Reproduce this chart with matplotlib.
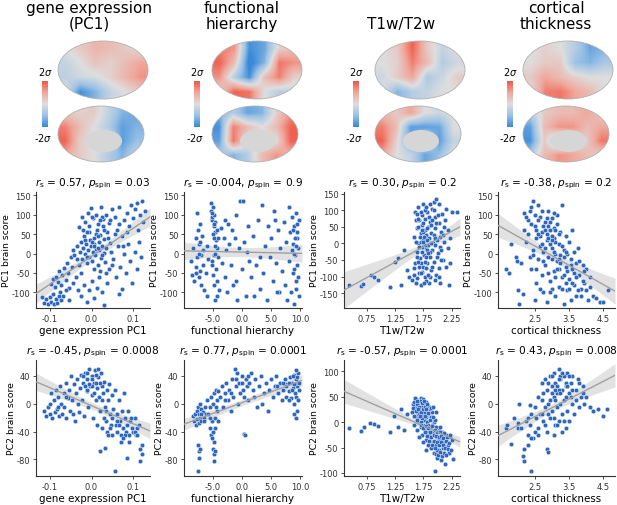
import matplotlib
matplotlib.use("Agg")
import matplotlib.pyplot as plt
import numpy as np
from matplotlib.colors import LinearSegmentedColormap
from matplotlib.patches import Ellipse

plt.rcParams['axes.unicode_minus'] = False
plt.rcParams['mathtext.fontset'] = 'dejavusans'

W, H = 617, 506

# ---------------- data ----------------
col_titles = ["gene expression\n(PC1)", "functional\nhierarchy", "T1w/T2w", "cortical\nthickness"]
x_labels = ["gene expression PC1", "functional hierarchy", "T1w/T2w", "cortical thickness"]
y_labels = ["PC1 brain score", "PC2 brain score"]
stats_r = [["0.57", "-0.004", "0.30", "-0.38"], ["-0.45", "0.77", "-0.57", "0.43"]]
stats_p = [["0.03", "0.9", "0.2", "0.2"], ["0.0008", "0.0001", "0.0001", "0.008"]]

x_ticks = [[-0.1, 0.0, 0.1], [-5.0, 0.0, 5.0, 10.0], [0.75, 1.25, 1.75, 2.25], [2.5, 3.5, 4.5]]
x_ticklabels = [["-0.1", "0.0", "0.1"], ["-5.0", "0.0", "5.0", "10.0"],
                ["0.75", "1.25", "1.75", "2.25"], ["2.5", "3.5", "4.5"]]
y_ticks = [[[-100, -50, 0, 50, 100, 150], [-100, -50, 0, 50, 100, 150],
            [-150, -100, -50, 0, 50, 100, 150], [-100, -50, 0, 50, 100, 150]],
           [[-80, -40, 0, 40], [-80, -40, 0, 40], [-100, -50, 0, 50, 100], [-80, -40, 0, 40]]]

# row 1: PC1 brain score
gene_pc1 = [
    (-0.118,-112),(-0.113,-127),(-0.108,-118),(-0.104,-130),(-0.100,-112),(-0.097,-125),(-0.093,-105),
    (-0.090,-130),(-0.086,-118),(-0.082,-127),(-0.079,-110),(-0.075,-98),(-0.072,-120),(-0.068,-108),
    (-0.098,-78),(-0.093,-65),(-0.088,-85),(-0.084,-60),(-0.080,-72),(-0.077,-45),(-0.073,-82),
    (-0.070,-55),(-0.066,-38),(-0.062,-68),(-0.059,-25),(-0.056,-50),(-0.053,-88),(-0.050,-10),
    (-0.047,-35),(-0.044,-75),(-0.041,-5),(-0.038,-60),(-0.035,20),(-0.032,-95),(-0.030,-30),
    (-0.025,-110),(-0.018,-80),(-0.012,-125),(-0.006,-95),(0.000,-70),(0.006,-115),(0.012,-88),
    (0.018,-60),(0.024,-100),(0.030,-132),(0.036,-75),
    (-0.028,5),(-0.025,30),(-0.022,-15),(-0.020,15),(-0.018,45),(-0.015,0),(-0.013,25),(-0.011,-25),
    (-0.009,10),(-0.007,55),(-0.005,-8),(-0.003,35),(-0.001,18),(0.001,-20),(0.003,5),(0.005,40),
    (0.007,25),(0.009,-5),(0.011,12),(0.013,60),(0.015,-30),(0.017,30),(0.019,8),(0.021,48),
    (0.023,-12),(0.025,20),(0.027,70),(0.029,2),(0.031,38),(0.033,-22),(0.035,15),(0.038,55),
    (0.041,-40),(0.044,28),(0.047,5),
    (-0.030,68),(-0.022,95),(-0.015,80),(-0.008,105),(-0.002,118),(0.004,90),(0.010,100),(0.016,75),
    (0.022,120),(0.028,88),(0.035,100),(0.042,78),(0.048,115),
    (0.055,95),(0.060,60),(0.066,120),(0.072,45),(0.078,85),(0.084,105),(0.090,70),(0.095,125),
    (0.100,90),(0.104,115),(0.108,130),(0.112,60),(0.116,100),(0.120,135),(0.124,80),(0.128,110),
    (0.052,-15),(0.058,-60),(0.063,20),(0.068,-35),(0.073,-90),(0.078,0),(0.083,-50),(0.088,25),
    (0.093,-20),(0.098,-75),(0.103,5),(0.108,-40),(0.113,30),(0.118,-10),(0.065,-105),
    (-0.020,60),(-0.015,35),(-0.010,-10),(-0.005,70),(0.000,30),(0.005,-40),(0.010,50),(0.015,15),
    (0.020,-45),(0.025,95),(0.030,60),(0.035,-50),(0.040,40),(0.045,85),(0.050,-30),(0.005,20),
    (0.015,45),(0.025,-5),(-0.025,-50),(-0.035,-15),(-0.045,10),(0.055,50),(0.065,75),(0.075,20),
    (0.085,55),(-0.060,-95),(-0.055,-120),(0.020,85),(-0.010,55),(0.000,95)]

hier_pc1 = [
    (-8.8,-20),(-8.6,-55),(-8.4,15),(-8.2,-70),(-8.0,-35),(-7.9,40),(-7.8,105),(-7.7,-10),(-7.6,60),
    (-7.5,-60),(-7.4,25),(-7.3,-45),(-7.2,75),(-7.1,-5),(-7.0,-80),(-6.9,45),(-6.8,-30),(-6.7,10),
    (-6.5,-95),(-6.3,-50),(-6.1,20),(-5.9,-15),(-6.0,-110),
    (-5.4,130),(-5.3,110),(-5.2,85),(-5.1,95),(-5.0,120),(-4.9,70),(-4.8,100),(-4.7,55),(-4.6,80),
    (-4.5,35),(-4.4,60),(-4.3,15),(-4.2,-10),(-5.2,-30),(-5.0,-55),(-4.8,-80),(-4.6,-120),(-4.4,-110),
    (-4.9,-5),(-4.7,20),(-4.5,-40),(-4.3,-70),(-4.1,40),(-4.0,-95),
    (-3.7,65),(-3.5,-25),(-3.2,40),(-3.0,-60),(-2.8,10),(-2.6,-100),(-2.4,75),(-2.2,25),(-2.0,-30),
    (-1.8,60),(-1.5,-80),(-1.2,40),(-1.0,100),(-0.8,-120),(-0.6,15),(-0.3,135),(-0.1,-40),(0.2,135),
    (0.4,30),(0.6,-110),(0.9,5),(1.2,-20),(1.5,-60),(1.8,45),(2.0,-110),(2.4,-30),(2.8,85),(3.1,-90),
    (3.4,125),(3.6,-50),(3.9,20),(4.2,-120),(4.5,70),(4.8,-10),(5.0,40),(5.3,-70),(5.5,110),(5.7,85),
    (5.9,-25),(6.2,60),(6.4,-100),(6.6,15),(6.9,-45),
    (7.2,80),(7.4,-80),(7.6,30),(7.8,-120),(8.0,120),(8.1,-20),(8.3,55),(8.4,-100),(8.5,10),(8.6,95),
    (8.7,-50),(8.8,25),(8.9,-130),(9.0,70),(9.1,-5),(9.2,105),(9.3,-70),(9.4,40),(9.5,-30),(9.6,15),
    (9.7,85),(9.8,-110),(9.2,-90),(8.9,0),(9.5,55),
    (-5.0,50),(-4.8,75),(-5.2,105),(-4.6,0),(-5.1,-20),(-4.9,40),(8.8,60),(9.1,40),(9.4,75),(9.0,-40),
    (9.6,-60),(9.3,20),(-7.5,0),(-8.0,-50),(-7.2,30),(-1.0,-70),(1.0,70),(3.0,-10),(6.0,-100),(-3.0,85)]

t1t2_pc1 = [
    (0.42,-125),(0.65,-130),(0.68,-122),(0.82,-95),(0.88,-102),(0.95,-112),(1.15,-132),(1.25,-55),
    (1.30,-45),(1.35,-125),(1.40,-20),(1.45,-80),(1.50,-100),
    (1.55,-110),(1.58,20),(1.60,-60),(1.60,95),(1.62,-120),(1.63,45),(1.64,-25),(1.65,110),(1.66,0),
    (1.67,-90),(1.68,70),(1.69,-45),(1.70,30),(1.71,-125),(1.72,85),(1.72,-10),(1.73,55),(1.74,-70),
    (1.75,10),(1.75,120),(1.76,-35),(1.77,40),(1.78,-100),(1.78,75),(1.79,-15),(1.80,25),(1.81,-60),
    (1.82,95),(1.83,-5),(1.84,50),(1.85,-120),(1.85,15),(1.86,-40),(1.87,65),(1.88,-80),(1.89,30),
    (1.90,105),(1.91,-20),(1.92,0),(1.93,125),(1.94,-55),(1.95,45),(1.96,80),(1.97,-95),(1.98,135),
    (2.00,10),(2.01,-30),(2.02,60),(2.03,120),(2.05,-120),(2.06,35),(2.08,90),(2.10,-50),(2.12,5),
    (2.14,70),(2.16,-70),(2.18,40),(2.20,-125),(2.22,15),(2.25,95),(1.68,-10),(1.70,5),(1.73,-25),
    (1.76,20),(1.79,-40),(1.82,-20),(1.74,35),(1.66,50),(1.62,70),(1.88,0),(1.70,-60),(1.64,-105),
    (1.80,-115),(1.95,-5),(1.77,100),(2.04,-10),(2.09,25),(1.59,-75),(1.87,-100),(2.35,95),
    (1.61,5),(1.63,-40),(1.65,75),(1.67,-70),(1.69,20),(1.71,95),(1.73,-85),(1.75,60),(1.77,-55),
    (1.79,110),(1.81,10),(1.83,-95),(1.85,80),(1.87,-25),(1.89,55),(1.91,-70),(1.93,25),(1.95,-110),
    (1.97,60),(1.99,-40),(2.01,85),(2.03,-75),(2.05,20),(2.07,-20),(2.11,50),(2.15,105),(2.19,-15),
    (2.23,-60),(1.66,-55),(1.72,40),(1.78,-5),(1.84,-30),(1.90,70),(1.96,15),(2.02,-100),(1.64,90),
    (1.76,-120),(1.86,120),(1.70,-90),(1.82,45),(1.94,100),(2.06,-50),(1.58,-95),(1.74,5),(1.80,-75)]

thick_pc1 = [
    (1.65,-40),(1.75,-50),(1.80,25),(1.95,-10),(1.98,-20),(2.00,-95),(2.05,-130),(2.10,-25),(2.15,-105),
    (2.20,105),(2.20,60),(2.25,30),(2.30,85),(2.35,-10),(2.40,120),(2.40,-40),(2.45,135),(2.45,10),
    (2.50,-120),(2.50,70),(2.55,40),(2.55,-75),(2.60,125),(2.60,-15),(2.65,95),(2.65,20),(2.70,-55),
    (2.70,55),(2.75,-100),(2.75,5),(2.80,80),(2.80,-30),(2.85,35),(2.85,-125),(2.90,110),(2.90,-10),
    (2.95,60),(2.95,-70),(3.00,15),(3.00,90),(3.05,-45),(3.05,40),(3.10,-110),(3.10,0),(3.15,75),
    (3.15,-20),(3.20,25),(3.20,-85),(3.25,55),(3.25,-5),(3.30,125),(3.30,-60),(3.35,10),(3.35,-130),
    (3.40,45),(3.40,-35),(3.45,-95),(3.45,0),(3.50,30),(3.50,-65),(3.55,-15),(3.55,-120),(3.60,60),
    (3.60,-40),(3.65,-80),(3.65,5),(3.70,-25),(3.70,-110),(3.75,15),(3.80,-55),(3.85,-90),(3.90,-30),
    (3.95,-75),(4.00,-40),(4.05,-120),(4.10,-60),(4.20,-110),(4.30,-115),(4.40,-125),(4.50,-125),
    (4.65,-95),(2.85,50),(3.00,-15),(3.10,30),(2.95,25),(3.20,-40),(3.05,65),(2.90,-50),(3.15,100),
    (2.75,-20),(3.35,-10),(3.00,-90),
    (2.25,95),(2.30,50),(2.35,110),(2.40,75),(2.45,-5),(2.50,100),(2.55,60),(2.60,85),(2.65,45),
    (2.70,110),(2.75,70),(2.80,15),(2.85,90),(2.90,40),(2.95,80),(3.00,45),(3.05,5),(3.10,60),
    (3.15,-40),(3.20,50),(3.25,-25),(3.30,20),(3.35,-55),(3.40,5),(3.45,-45),(3.50,-90),(3.55,-30),
    (3.60,-75),(3.65,-50),(3.70,-60),(3.75,-95),(3.80,-20),(3.85,-110),(3.90,-70),(3.95,-45),
    (4.00,-95),(4.10,-85),(2.60,50),(2.70,25),(2.80,60),(2.90,70),(3.00,35),(3.10,-60),(3.20,-15),
    (3.30,-90),(3.40,-75),(2.55,-40),(2.65,-90),(3.05,105),(2.95,-100)]

# row 2: PC2 brain score
gene_pc2 = [
    (-0.115,-10),(-0.110,-18),(-0.105,-5),(-0.100,-15),(-0.098,15),(-0.095,-20),(-0.090,5),(-0.088,-12),
    (-0.085,20),(-0.082,-8),(-0.080,10),(-0.077,-18),(-0.075,25),(-0.072,0),(-0.070,-15),(-0.067,15),
    (-0.065,-5),(-0.062,30),(-0.060,-20),(-0.057,8),(-0.055,20),(-0.052,-10),(-0.050,40),(-0.047,5),
    (-0.045,-15),(-0.042,28),(-0.040,-25),(-0.037,15),(-0.035,35),(-0.032,0),(-0.030,-12),(-0.028,22),
    (-0.025,42),(-0.022,5),(-0.020,30),(-0.018,-18),(-0.015,45),(-0.012,18),(-0.010,35),(-0.008,-5),
    (-0.005,50),(-0.003,25),(0.000,12),(0.002,40),(0.004,-20),(0.006,30),(0.008,48),(0.010,5),
    (0.012,22),(0.014,-30),(0.016,38),(0.018,10),(0.020,-10),(0.022,45),(0.024,25),(0.026,-35),
    (0.028,15),(0.030,32),(0.032,-5),(0.034,-25),(0.036,20),(0.038,-40),(0.040,5),(0.042,28),
    (0.044,-15),(0.046,-30),(0.048,12),(0.050,-45),(0.052,-8),(0.055,20),(0.058,-30),(0.060,-15),
    (0.062,-40),(0.065,5),(0.068,-25),(0.070,-45),(0.072,-10),(0.075,-35),(0.078,15),(0.080,-20),
    (0.083,-40),(0.086,-30),(0.088,-10),(0.090,-45),(0.093,-25),(0.096,-35),(0.100,-40),(0.103,-20),
    (0.106,-45),(0.110,-35),(0.113,-30),(0.117,-65),(0.120,-72),(0.020,-68),(0.033,-63),(0.055,-97),
    (0.085,-78),(0.115,-82),(0.090,-55),(0.120,-60),(0.000,25),(-0.010,20),(0.010,30),(0.050,-20),
    (0.070,-55),
    (-0.020,40),(-0.010,45),(0.000,35),(0.010,42),(0.020,30),(-0.005,28),(0.005,15),(0.015,50),
    (-0.015,25),(0.025,5),(0.035,-10),(0.045,-35),(0.060,-25),(0.080,-45),(0.095,-20),(0.105,-40),
    (-0.060,10),(-0.080,-5),(-0.100,0),(0.030,-20),(0.040,-45),(0.065,-30),(0.075,-50),(0.110,-45)]

hier_pc2 = [
    (-8.5,-18),(-8.3,-25),(-8.1,-15),(-8.0,-30),(-7.8,-10),(-7.7,-22),(-7.6,-5),(-7.5,-28),(-7.4,-15),
    (-7.3,0),(-7.2,-20),(-7.1,-8),(-7.0,-25),(-6.8,-12),(-6.6,-20),(-6.4,-5),(-6.2,-15),(-6.0,5),
    (-7.6,-60),(-7.5,-68),(-7.4,-78),(-7.6,-97),(-7.3,-65),(-5.8,-15),(-5.6,-35),(-5.5,-5),(-5.4,-45),
    (-5.3,10),(-5.2,-25),(-5.1,-50),(-5.0,0),(-5.0,-40),(-4.9,-55),(-4.8,15),(-4.7,-20),(-4.6,-35),
    (-4.5,20),(-4.4,5),(-4.3,-10),(-4.2,18),(-4.1,-25),(-5.0,-65),(-4.9,-72),(-4.8,-82),(-4.6,-68),
    (-3.8,10),(-3.5,25),(-3.3,-5),(-3.0,15),(-2.8,30),(-2.5,5),(-2.2,20),(-2.0,-10),(-1.8,35),
    (-1.5,10),(-1.3,50),(-1.1,25),(-0.9,45),(-0.7,0),(-0.5,30),(-0.3,15),(-0.1,40),(0.1,20),
    (0.3,-43),(0.5,-45),(0.3,10),(0.6,35),(0.8,25),(1.0,5),(1.2,30),(1.5,45),(1.8,20),(2.0,10),
    (2.3,35),(2.6,-5),(2.9,25),(3.2,40),(3.5,0),(3.8,15),(4.1,30),(4.4,-10),(4.7,20),(5.0,35),
    (5.3,10),(5.6,25),(5.9,40),(6.2,15),(6.5,30),(6.8,5),(7.0,20),(7.3,35),(7.5,10),(7.8,28),
    (8.0,18),(8.2,38),(8.4,8),(8.6,30),(8.8,22),(9.0,42),(9.1,15),(9.3,35),(9.4,25),(9.5,-10),
    (9.6,45),(9.7,20),(9.2,-20),(8.9,0),(9.5,30),(9.3,48),
    (7.5,25),(8.0,30),(8.5,20),(9.0,28),(9.5,38),(9.8,30),(8.7,40),(9.2,10),(6.0,25),(7.0,30),
    (-1.0,35),(0.0,30),(1.0,40),(-2.0,15),(-3.0,5),(-6.5,-25),(-7.0,-15),(-5.5,-20),(-4.5,-5),
    (9.6,5),(9.0,-15),(8.0,5)]

t1t2_pc2 = [
    (0.42,-12),(0.65,-17),(0.70,-10),(0.80,-1),(0.88,-4),(0.95,-8),(1.15,-20),(1.22,12),(1.30,-10),
    (1.35,25),(1.40,-15),(1.45,15),
    (1.55,20),(1.58,-5),(1.60,30),(1.62,10),(1.63,-15),(1.65,40),(1.66,0),(1.68,25),(1.70,-10),
    (1.71,48),(1.72,15),(1.73,-25),(1.75,35),(1.76,5),(1.77,-15),(1.78,22),(1.79,-35),(1.80,40),
    (1.81,0),(1.82,-20),(1.83,15),(1.84,-45),(1.85,30),(1.86,-10),(1.87,-30),(1.88,10),(1.89,-50),
    (1.90,-20),(1.91,20),(1.92,-40),(1.93,0),(1.94,-60),(1.95,-25),(1.96,-97),(1.97,-10),(1.98,-45),
    (1.99,-70),(2.00,-30),(2.02,-15),(2.03,-55),(2.05,-35),(2.07,-75),(2.08,-20),(2.10,-50),(2.12,-40),
    (2.14,-82),(2.15,-25),(2.18,-45),(2.20,-60),(2.22,-30),(2.27,-72),(1.68,10),(1.72,30),(1.74,-5),
    (1.76,20),(1.78,-20),(1.80,10),(1.83,-5),(1.86,25),(1.70,0),(1.65,15),(1.90,-5),(1.95,5),
    (2.00,-55),(1.85,-25),(2.05,-10),(1.75,45),
    (1.56,35),(1.58,12),(1.61,45),(1.63,28),(1.64,5),(1.66,38),(1.67,18),(1.69,42),(1.70,20),
    (1.71,-5),(1.72,38),(1.73,8),(1.74,25),(1.75,-12),(1.76,42),(1.77,12),(1.78,30),(1.79,-8),
    (1.80,25),(1.81,-28),(1.82,35),(1.83,-12),(1.84,18),(1.85,-38),(1.86,5),(1.87,-20),(1.88,28),
    (1.89,-30),(1.90,-8),(1.91,-45),(1.92,10),(1.93,-25),(1.94,-38),(1.95,-15),(1.96,-50),(1.97,-28),
    (1.98,-62),(1.99,-20),(2.00,-40),(2.01,-65),(2.02,-30),(2.03,-45),(2.04,-20),(2.05,-58),(2.06,-40),
    (2.07,-28),(2.08,-66),(2.09,-45),(2.10,-32),(2.11,-60),(2.12,-22),(2.13,-50),(2.15,-38),(2.16,-65),
    (2.17,-30),(2.19,-52),(2.21,-42),(2.23,-25),(2.24,-55),(2.26,-35),(1.68,-30),(1.74,-40),(1.80,-55),
    (1.92,30),(1.98,20),
    (1.57,28),(1.59,40),(1.62,22),(1.64,35),(1.67,30),(1.69,12),(1.60,48),(1.66,25),(1.63,42)]

thick_pc2 = [
    (1.65,-35),(1.70,-30),(1.80,-58),(1.90,-20),(2.00,-28),(2.00,-35),(2.05,0),(2.10,-35),(2.15,-75),
    (2.20,-82),(2.20,-65),(2.25,-25),(2.30,-45),(2.30,-60),(2.35,-2),(2.35,-30),(2.40,-97),(2.40,-15),
    (2.45,-50),(2.50,-40),(2.50,-5),(2.55,-20),(2.60,10),(2.60,-35),(2.65,-15),(2.70,5),(2.70,30),
    (2.75,-25),(2.75,15),(2.80,-5),(2.80,35),(2.85,-65),(2.85,20),(2.90,-70),(2.90,0),(2.95,40),
    (2.95,-20),(3.00,25),(3.00,-10),(3.05,10),(3.05,45),(3.10,-30),(3.10,30),(3.15,15),(3.15,-5),
    (3.20,50),(3.20,-25),(3.25,35),(3.25,0),(3.30,20),(3.30,-15),(3.35,40),(3.35,5),(3.40,-35),
    (3.40,25),(3.45,-10),(3.45,45),(3.50,15),(3.50,-25),(3.55,30),(3.60,0),(3.60,40),(3.65,-15),
    (3.70,20),(3.75,35),(3.80,-5),(3.85,10),(3.90,25),(3.95,0),(4.00,10),(4.10,-5),(4.20,-10),
    (4.35,-8),(4.50,-18),(4.60,-8),(3.00,15),(3.10,5),(3.20,20),(2.90,-15),(3.30,-40),(3.40,10),
    (2.80,-30),(3.05,-45),(3.25,40),(3.15,25),
    (2.90,30),(3.00,40),(3.10,20),(3.20,35),(3.30,45),(3.40,30),(3.50,40),(3.60,20),(3.70,5),
    (3.25,15),(3.05,-20),(2.95,5),(2.85,-40),(3.15,-30),(3.35,-25),(2.70,-15),(2.60,-45),(3.45,25),
    (3.55,10),(3.80,30),(3.90,15),(2.40,-50),(2.30,-20)]

panels = [[gene_pc1, hier_pc1, t1t2_pc1, thick_pc1], [gene_pc2, hier_pc2, t1t2_pc2, thick_pc2]]

# brain maps (z-scores, coarse grid) : lateral / medial for each column
brain_lat = [
    [[0, 0.3, 0.6, 0.5, 0.3, 0], [-0.3, 0, 0.4, 0.2, 0.5, 0.8], [-0.4, -0.2, -0.1, 0.2, 0.6, 1.0], [0, -1.5, -1.0, -0.3, 0, 0.3]],
    [[1.2, 1.0, -1.5, -1.2, 0.2, 0.5], [1.5, 0.5, -1.8, -1.0, 1.3, 1.0], [1.0, -0.5, -1.5, 0.5, 1.2, 0.2], [0.2, 1.5, 1.3, 0, -0.5, -0.3]],
    [[0, 0.3, 1.5, 0.3, -0.3, 0], [0, 0.2, 1.2, 0.5, -0.5, -0.2], [-0.2, 0.3, 0.8, -0.6, -0.2, 0.3], [0, -1.0, -0.5, -0.3, 0, 0]],
    [[0, 0.2, 0, -0.5, -1.2, -1.0], [0, 0.3, 0.3, -0.8, -1.0, -0.6], [0.3, 0.8, 0.5, 0.2, 0, 0], [0, 1.2, 1.3, 0.8, 0.5, 0]]]
brain_med = [
    [[0.3, 0.2, 0.3, -0.3, -1.0, -1.2], [1.2, 0.5, 0, -0.5, -1.3, -1.0], [1.5, 0.3, 0, 0, -1.3, -0.8], [0.8, 0.3, 0, -0.5, -1.0, -0.3]],
    [[-1.0, -0.5, -1.2, -1.0, 0.2, 1.0], [-1.5, 1.2, 0.5, 0, 0.5, 1.5], [-1.3, 1.3, 0, 0, 0, 1.5], [-0.5, -1.0, -0.5, 0.5, 1.0, 0.5]],
    [[0.5, 0.3, 0.8, 0, -0.2, 0], [1.2, 0.5, -1.3, -1.3, -1.2, 0], [1.5, 0.2, -1.2, 0, -1.3, -0.3], [0.8, 0, -0.3, -1.2, -0.8, 0]],
    [[-0.5, 0.3, 0.5, 0.5, 0.8, 0.3], [-1.3, 0.5, 1.0, 1.0, 0.5, 0.8], [-1.5, 0.3, -1.0, 0, 0.3, 1.3], [-0.5, 0.5, 1.0, 0.8, 0.5, 0.2]]]

# ---------------- layout (pixels) ----------------
col_lr = [(36, 150), (184, 302), (344, 460), (498, 615)]
row_tb = [(193, 309), (361, 477)]
xlims = [(-0.133, 0.14), (-10.0, 10.3), (0.34, 2.40), (1.43, 4.84)]
ylims = [[(-140, 158), (-140, 158), (-195, 155), (-140, 158)],
         [(-104, 63), (-104, 63), (-106, 122), (-104, 63)]]

pt_color = '#2f67bd'
cmap = LinearSegmentedColormap.from_list('bw', ['#3a8ad8', '#9cc2e6', '#dedede', '#f0a89c', '#ee5a48'])

fig = plt.figure(figsize=(W / 100, H / 100), dpi=100)

# overlay for brains, colorbars, titles
top = fig.add_axes([0, 0, 1, 1], zorder=0)
top.axis('off')

brain_x = [58, 212, 375, 523]
cbar_x = [42, 194, 353, 507]
title_x = [89, 242, 401, 556]
for c in range(4):
    bx = brain_x[c]
    for grid, (cy, w, h) in [(brain_lat[c], (71, 90, 58)), (brain_med[c], (135, 86, 56))]:
        cx = bx + w / 2
        ell = Ellipse((cx, cy), w, h, facecolor='none', edgecolor='none')
        top.add_patch(ell)
        im = top.imshow(np.array(grid), cmap=cmap, vmin=-1.6, vmax=1.6, interpolation='bilinear',
                        extent=(cx - w / 2, cx + w / 2, cy + h / 2, cy - h / 2), aspect='auto')
        im.set_clip_path(ell)
        top.add_patch(Ellipse((cx, cy), w, h, facecolor='none', edgecolor='#b0b0b0', lw=0.6))
    # medial wall
    top.add_patch(Ellipse((bx + 46, 142), 36, 22, facecolor='#d6d6d6', edgecolor='none'))
    # colorbar
    grad = np.linspace(2, -2, 60).reshape(-1, 1)
    top.imshow(grad, cmap=cmap, vmin=-2, vmax=2, extent=(cbar_x[c], cbar_x[c] + 6, 128, 82), aspect='auto')
    top.text(cbar_x[c] + 3, 78, r'2$\sigma$', ha='center', va='bottom', fontsize=7)
    top.text(cbar_x[c] + 1, 132, r'-2$\sigma$', ha='center', va='top', fontsize=7)
    if '\n' in col_titles[c]:
        top.text(title_x[c], 1, col_titles[c], ha='center', va='top', fontsize=11, linespacing=1.05)
    else:
        top.text(title_x[c], 24, col_titles[c], ha='center', va='center', fontsize=11)
top.set_xlim(0, W)
top.set_ylim(H, 0)

for r in range(2):
    for c in range(4):
        l, rr = col_lr[c]
        t, b = row_tb[r]
        ax = fig.add_axes([l / W, 1 - b / H, (rr - l) / W, (b - t) / H], zorder=2)
        ax.patch.set_alpha(0)
        pts = np.array(panels[r][c], dtype=float)
        x, y = pts[:, 0], pts[:, 1]
        x0, x1 = xlims[c]
        # regression line with 95% CI
        slope, icpt = np.polyfit(x, y, 1)
        xs = np.linspace(x0, x1, 100)
        ys = slope * xs + icpt
        n = len(x)
        resid = y - (slope * x + icpt)
        s = np.sqrt(np.sum(resid ** 2) / (n - 2))
        se = s * np.sqrt(1 / n + (xs - x.mean()) ** 2 / np.sum((x - x.mean()) ** 2))
        ax.fill_between(xs, ys - 1.97 * se, ys + 1.97 * se, color='#d0d0d0', alpha=0.6, lw=0, zorder=1)
        ax.scatter(x, y, s=11, color=pt_color, edgecolor='white', linewidths=0.3, zorder=2)
        ax.plot(xs, ys, color='#a0a0a0', lw=1.0, zorder=3)
        ax.set_xlim(x0, x1)
        ax.set_ylim(*ylims[r][c])
        ax.set_xticks(x_ticks[c])
        ax.set_xticklabels(x_ticklabels[c])
        ax.set_yticks(y_ticks[r][c])
        ax.spines['top'].set_visible(False)
        ax.spines['right'].set_visible(False)
        for sp in ['left', 'bottom']:
            ax.spines[sp].set_linewidth(0.8)
            ax.spines[sp].set_color('#333333')
        ax.tick_params(labelsize=6, length=2.5, width=0.6, pad=1.5, colors='#333333')
        ax.set_xlabel(x_labels[c], fontsize=7.4, labelpad=1.5)
        ax.set_ylabel(y_labels[r], fontsize=6.7, labelpad=0.5)
        ax.set_title(r'$r_\mathrm{s}$ = ' + stats_r[r][c] + r', $p_\mathrm{spin}$ = ' + stats_p[r][c],
                     fontsize=7.6, pad=5)

fig.savefig('out.png', dpi=100)
